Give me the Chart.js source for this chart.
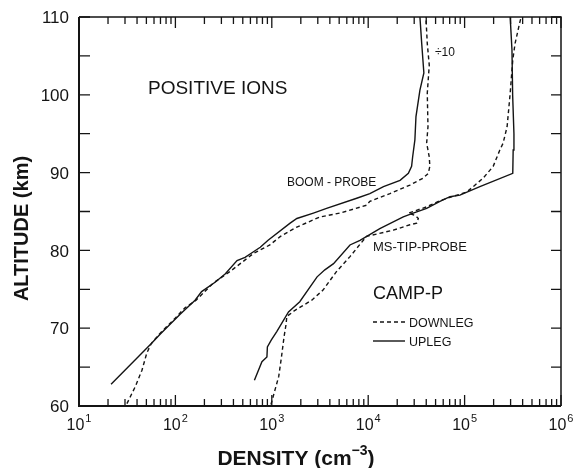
<!DOCTYPE html>
<html>
<head>
<meta charset="utf-8">
<script src="https://cdn.jsdelivr.net/npm/chart.js@4"></script>
<style>
  body { margin: 0; background: #fff; }
  canvas { display: block; }
</style>
</head>
<body>
<canvas id="chart" width="579" height="468"></canvas>
<script>
// boom probe, upleg (solid)
var boomUpDensity = [21.5, 56, 69, 112, 160, 187, 258, 330, 436, 528, 640, 759, 915, 1549, 1820, 2700, 3700, 7600, 10400, 14400, 21400, 26100, 28200, 28900, 30500, 31300, 34400, 37800, 35900, 34400];
var boomUpAlt = [62.8, 68.0, 69.2, 71.8, 73.6, 74.7, 75.9, 77.0, 78.7, 79.1, 79.8, 80.4, 81.3, 83.5, 84.1, 84.8, 85.4, 86.7, 87.3, 88.2, 89.0, 89.9, 90.8, 92.0, 94.2, 97.2, 100.6, 102.8, 106.6, 110];

// boom probe, downleg (dashed)
var boomDownDensity = [31.4, 38.4, 45, 50.5, 56, 70, 98, 125, 164, 247, 370, 645, 955, 1230, 1820, 3160, 5100, 9600, 10400, 16800, 27100, 37200, 42000, 43600, 43000, 40400, 41700, 41000, 43000, 41000, 39700];
var boomDownAlt = [60.3, 62.5, 64.6, 66.8, 68.0, 69.4, 71.2, 72.6, 73.6, 75.8, 77.3, 79.6, 80.7, 81.8, 83.0, 84.3, 84.8, 85.8, 86.3, 87.3, 88.4, 89.3, 89.9, 90.8, 92.0, 93.8, 95.9, 100.2, 103.8, 106.6, 110];

// MS tip probe, upleg (solid)
var tipUpDensity = [660, 790, 890, 900, 990, 1130, 1490, 1950, 2950, 3550, 4370, 6470, 8220, 13200, 23100, 29300, 40400, 55500, 70500, 89400, 144000, 316000, 319000, 325000, 315000, 310000, 297000];
var tipUpAlt = [63.3, 65.7, 66.3, 67.6, 68.5, 69.6, 72.1, 73.4, 76.6, 77.5, 78.3, 80.7, 81.3, 82.8, 84.3, 84.8, 85.4, 86.3, 86.9, 87.1, 88.2, 89.9, 92.9, 95.0, 100.0, 105.8, 110];

// MS tip probe, downleg (dashed)
var tipDownDensity = [980, 1180, 1260, 1340, 1410, 1430, 1740, 2600, 3400, 4700, 6470, 9600, 18200, 20500, 27100, 31800, 33100, 30600, 26100, 29300, 40400, 55500, 105000, 123000, 156000, 198000, 232000, 251000, 276000, 297000, 316000, 334000, 372000, 386000];
var tipDownAlt = [60.2, 63.8, 66.3, 68.9, 70.6, 71.5, 72.3, 73.6, 74.9, 77.3, 79.2, 81.8, 82.6, 82.8, 83.3, 83.5, 84.1, 84.5, 84.8, 85.0, 85.6, 86.4, 87.5, 88.2, 89.3, 90.8, 92.9, 93.8, 95.9, 100.2, 104.5, 106.6, 109.2, 110];

var yLabels = [60, 70, 80, 90, 100, 110];
var xExponents = [1, 2, 3, 4, 5, 6];

var ink = '#141414';
var FONT = '"Liberation Sans", Arial, sans-serif';

function pts(xs, ys) {
  return xs.map(function (v, i) { return { x: v, y: ys[i] }; });
}

function line(label, xs, ys, dashed) {
  return {
    label: label,
    data: pts(xs, ys),
    showLine: true,
    borderColor: ink,
    borderWidth: 1.4,
    borderDash: dashed ? [4, 3] : [],
    pointRadius: 0,
    fill: false,
    tension: 0,
  };
}

function text(ctx, s, x, midY, size, weight) {
  ctx.font = (weight || 'normal') + ' ' + size + 'px ' + FONT;
  ctx.textBaseline = 'alphabetic';
  ctx.fillText(s, x, midY + size * 0.36);
}

// frame, inward ticks, tick labels and the hand-lettered annotations
var decorations = {
  id: 'decorations',
  afterDatasetsDraw: function (chart) {
    var ctx = chart.ctx;
    var a = chart.chartArea;
    var x = chart.scales.x, y = chart.scales.y;
    ctx.save();
    ctx.strokeStyle = ink;
    ctx.fillStyle = ink;
    ctx.setLineDash([]);

    // frame
    ctx.lineWidth = 2;
    ctx.beginPath();
    ctx.moveTo(a.left, a.top); ctx.lineTo(a.left, a.bottom); ctx.lineTo(a.right, a.bottom);
    ctx.stroke();
    ctx.lineWidth = 1.5;
    ctx.beginPath();
    ctx.moveTo(a.left, a.top); ctx.lineTo(a.right, a.top); ctx.lineTo(a.right, a.bottom);
    ctx.stroke();

    // altitude ticks every 5 km, both sides
    ctx.lineWidth = 1.3;
    for (var v = 60; v <= 110; v += 5) {
      var py = y.getPixelForValue(v);
      ctx.beginPath();
      ctx.moveTo(a.left, py); ctx.lineTo(a.left + 11, py);
      ctx.moveTo(a.right, py); ctx.lineTo(a.right - 10, py);
      ctx.stroke();
    }
    // log density ticks, bottom and top
    for (var d = 1; d <= 6; d++) {
      for (var m = 1; m <= 9; m++) {
        if (d === 6 && m > 1) break;
        var px = x.getPixelForValue(m * Math.pow(10, d));
        var len = m === 1 ? 11 : 7;
        ctx.beginPath();
        ctx.moveTo(px, a.bottom); ctx.lineTo(px, a.bottom - len);
        ctx.moveTo(px, a.top); ctx.lineTo(px, a.top + len);
        ctx.stroke();
      }
    }

    // y tick labels
    ctx.textAlign = 'right';
    yLabels.forEach(function (v) {
      text(ctx, String(v), a.left - 10, y.getPixelForValue(v), 17);
    });

    // x tick labels 10^n
    ctx.textAlign = 'left';
    xExponents.forEach(function (e) {
      var px = x.getPixelForValue(Math.pow(10, e));
      ctx.font = '16px ' + FONT;
      var w1 = ctx.measureText('10').width;
      ctx.font = '11px ' + FONT;
      var w2 = ctx.measureText(String(e)).width;
      var x0 = px - (w1 + w2 + 1) / 2;
      ctx.font = '16px ' + FONT;
      ctx.fillText('10', x0, a.bottom + 24);
      ctx.font = '11px ' + FONT;
      ctx.fillText(String(e), x0 + w1 + 1, a.bottom + 16);
    });

    // axis titles
    ctx.font = 'bold 20px ' + FONT;
    ctx.save();
    ctx.translate(28, (a.top + a.bottom) / 2 + 17);
    ctx.rotate(-Math.PI / 2);
    ctx.textAlign = 'center';
    ctx.fillText('ALTITUDE (km)', 0, 0);
    ctx.restore();

    var t1 = 'DENSITY (cm', t2 = '\u22123', t3 = ')';
    ctx.font = 'bold 21px ' + FONT;
    var wa = ctx.measureText(t1).width, wc = ctx.measureText(t3).width;
    ctx.font = 'bold 14px ' + FONT;
    var wb = ctx.measureText(t2).width;
    var sx = 296 - (wa + wb + wc) / 2;
    ctx.font = 'bold 21px ' + FONT;
    ctx.fillText(t1, sx, 465);
    ctx.fillText(t3, sx + wa + wb, 465);
    ctx.font = 'bold 14px ' + FONT;
    ctx.fillText(t2, sx + wa, 455);

    // annotations
    text(ctx, 'POSITIVE IONS', 148, 87, 19);
    text(ctx, 'BOOM - PROBE', 287, 182, 12);
    text(ctx, '\u00f710', 435, 52, 12);
    text(ctx, 'MS-TIP-PROBE', 373, 246, 13);
    text(ctx, 'CAMP-P', 373, 293, 18);
    text(ctx, 'DOWNLEG', 409, 322, 12.5);
    text(ctx, 'UPLEG', 409, 341, 12.5);

    ctx.lineWidth = 1.4;
    ctx.setLineDash([4, 3]);
    ctx.beginPath(); ctx.moveTo(373, 322); ctx.lineTo(405, 322); ctx.stroke();
    ctx.setLineDash([]);
    ctx.beginPath(); ctx.moveTo(373, 341); ctx.lineTo(405, 341); ctx.stroke();
    ctx.restore();
  }
};

var config = {
  type: 'scatter',
  data: {
    datasets: [
      line('Boom probe upleg', boomUpDensity, boomUpAlt, false),
      line('Boom probe downleg', boomDownDensity, boomDownAlt, true),
      line('MS tip probe upleg', tipUpDensity, tipUpAlt, false),
      line('MS tip probe downleg', tipDownDensity, tipDownAlt, true),
    ],
  },
  options: {
    responsive: false,
    animation: false,
    layout: { padding: { left: 79, top: 17, right: 18, bottom: 62 } },
    plugins: { legend: { display: false }, tooltip: { enabled: false } },
    scales: {
      x: { type: 'logarithmic', min: 10, max: 1000000, display: false },
      y: { type: 'linear', min: 60, max: 110, display: false },
    },
  },
  plugins: [decorations],
};

var myChart = new Chart(document.getElementById('chart'), config);
</script>
</body>
</html>
